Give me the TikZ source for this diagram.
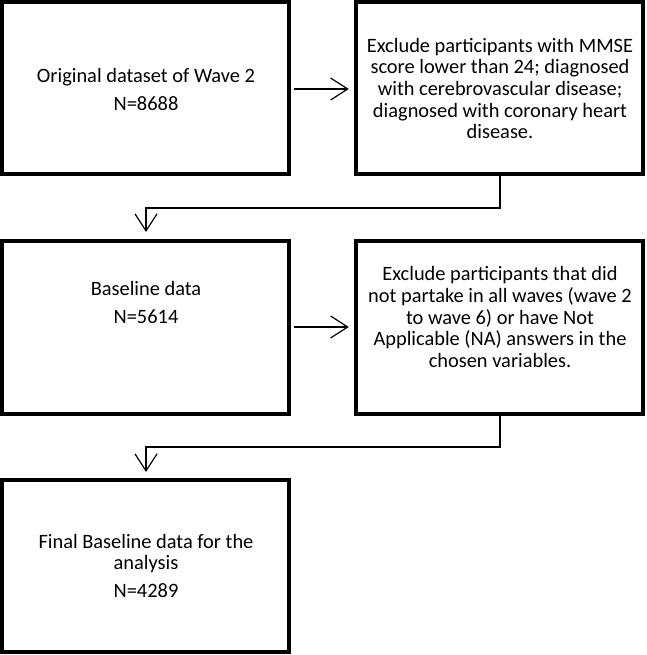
\documentclass[tikz,border=0pt]{standalone}
\usepackage{fontspec}
\setmainfont{Carlito}
\usetikzlibrary{arrows.meta}
\begin{document}
\begin{tikzpicture}[x=1pt,y=-1pt,
  box/.style={draw=black,line width=4.5pt,inner sep=0pt},
  txt/.style={align=center,font=\fontsize{20.4}{21.7}\selectfont,inner sep=0pt},
  conn/.style={line width=1.2pt,-{Straight Barb[length=17pt,width=22pt,line width=1.2pt]}}
]
\useasboundingbox (0,0) rectangle (646,655);
% boxes
\node[box,minimum width=287pt,minimum height=172pt] (b1) at (145.5,88) {};
\node[box,minimum width=287pt,minimum height=172pt] (b2) at (499.5,88) {};
\node[box,minimum width=287pt,minimum height=173pt] (b3) at (145.5,327.5) {};
\node[box,minimum width=287pt,minimum height=173pt] (b4) at (499.5,327.5) {};
\node[box,minimum width=287pt,minimum height=172pt] (b5) at (145.5,566) {};
% texts
\node[txt] (t1) at (146,89) {Original dataset of Wave 2\\[6.3pt]N=8688};
\node[txt] (t2) at (500,88.5) {Exclude participants with MMSE\\score lower than 24; diagnosed\\with cerebrovascular disease;\\diagnosed with coronary heart\\disease.};
\node[txt] (t3) at (146,302) {Baseline data\\[6.3pt]N=5614};
\node[txt] (t4) at (500,317) {Exclude participants that did\\not partake in all waves (wave 2\\to wave 6) or have Not\\Applicable (NA) answers in the\\chosen variables.};
\node[txt] (t5) at (146,566) {Final Baseline data for the\\analysis\\[6.3pt]N=4289};
% connectors
\coordinate (h1) at (b2.west |- 0,89);
\coordinate (h2) at (b4.west |- 0,327);
\draw[conn,shorten >=5pt,shorten <=2.25pt] (b1.east |- h1) -- (h1);
\draw[conn,shorten >=5pt,shorten <=2.25pt] (b3.east |- h2) -- (h2);
\coordinate (s1) at (500,174);
\coordinate (e1) at (146,238);
\draw[conn,shorten >=6pt] (s1) |- (146,208) -- (e1);
\coordinate (s2) at (500,414);
\coordinate (e2) at (146,478);
\draw[conn,shorten >=6pt] (s2) |- (146,447) -- (e2);
\end{tikzpicture}
\end{document}
